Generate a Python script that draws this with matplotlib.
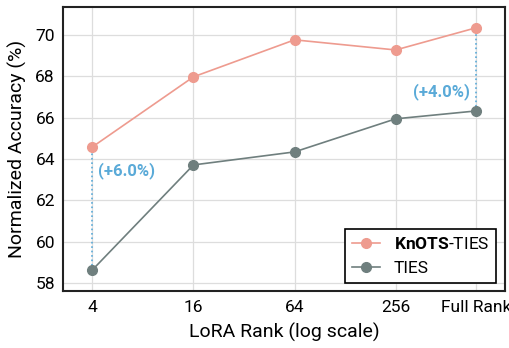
import matplotlib
matplotlib.use("Agg")
import matplotlib.pyplot as plt

plt.rcParams['font.family'] = ['Roboto', 'DejaVu Sans']
plt.rcParams['mathtext.fontset'] = 'custom'
plt.rcParams['mathtext.bf'] = 'Roboto:bold'
plt.rcParams['mathtext.rm'] = 'Roboto'

# data
ranks = [4, 16, 64, 256, 768]
rank_labels = ['4', '16', '64', '256', 'Full Rank']
knots_ties = [64.58, 67.97, 69.76, 69.27, 70.34]
ties = [58.63, 63.71, 64.34, 65.94, 66.32]
gap_labels = ['(+6.0%)', '(+4.0%)']

pink = '#EE9B8F'
grey = '#6F7F7E'
blue = '#5AAAD8'

fig, ax = plt.subplots(figsize=(5.1, 3.48), dpi=100)
ax.set_xscale('log', base=2)

ax.plot(ranks, knots_ties, '-o', color=pink, lw=1.2, ms=7, label=r'$\bf{KnOTS}$-TIES', zorder=3)
ax.plot(ranks, ties, '-o', color=grey, lw=1.2, ms=7, label='TIES', zorder=3)

# dotted gap lines + labels
ax.plot([ranks[0], ranks[0]], [ties[0], knots_ties[0]], ':', color=blue, lw=1.2, zorder=2)
ax.plot([ranks[-1], ranks[-1]], [ties[-1], knots_ties[-1]], ':', color=blue, lw=1.2, zorder=2)
ax.text(ranks[0] * 1.08, 63.45, gap_labels[0], color=blue, fontsize=12, fontweight='bold',
        ha='left', va='center')
ax.text(ranks[-1] / 1.08, 67.25, gap_labels[1], color=blue, fontsize=12, fontweight='bold',
        ha='right', va='center')

ax.set_xlim(4 / 1.49, 768 * 1.49)
ax.set_ylim(57.6, 71.35)
ax.set_xticks(ranks)
ax.set_xticklabels(rank_labels)
ax.minorticks_off()
ax.set_yticks([58, 60, 62, 64, 66, 68, 70])
ax.tick_params(axis='both', length=0, labelsize=12.5, pad=6)

ax.grid(True, color='#DDDDDD', lw=0.9)
ax.set_axisbelow(True)
for s in ax.spines.values():
    s.set_linewidth(1.5)
    s.set_color('#222222')

ax.set_xlabel('LoRA Rank (log scale)', fontsize=14, labelpad=6)
ax.set_ylabel('Normalized Accuracy (%)', fontsize=14, labelpad=6)

leg = ax.legend(loc='lower right', fontsize=12.5, fancybox=False, framealpha=1,
                edgecolor='black', handlelength=1.6, borderpad=0.4, labelspacing=0.5)
leg.get_frame().set_linewidth(1.2)

fig.subplots_adjust(left=0.124, right=0.99, top=0.98, bottom=0.163)
fig.savefig('out.png', dpi=100)
